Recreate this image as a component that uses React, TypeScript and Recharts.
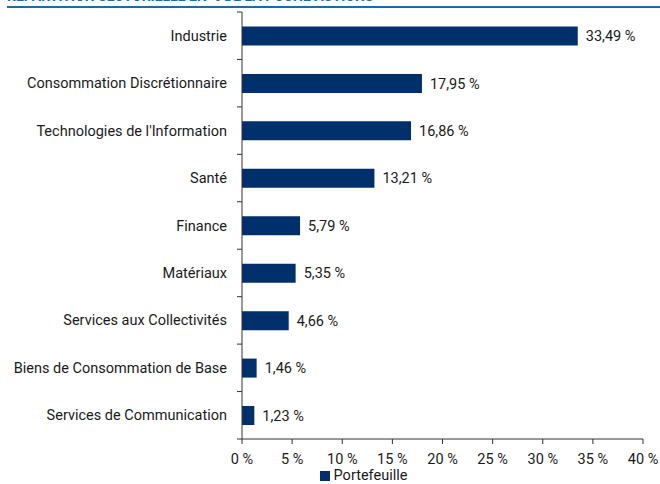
import React from "react";
import { BarChart, Bar, XAxis, YAxis, Legend, LabelList } from "recharts";

const categories = [
  "Industrie",
  "Consommation Discrétionnaire",
  "Technologies de l'Information",
  "Santé",
  "Finance",
  "Matériaux",
  "Services aux Collectivités",
  "Biens de Consommation de Base",
  "Services de Communication",
];
const portefeuille = [33.49, 17.95, 16.86, 13.21, 5.79, 5.35, 4.66, 1.46, 1.23];
const xTicks = [0, 5, 10, 15, 20, 25, 30, 35, 40];
const seriesName = "Portefeuille";
const title = "RÉPARTITION SECTORIELLE EN % DE LA POCHE ACTIONS";

const data = categories.map((c, i) => ({ name: c, value: portefeuille[i] }));

const FONT = "Roboto, sans-serif";
const FS = 14.5;
const BAR = "#00306b";
const TEXT = "#1a1a1a";

const fmtPct = (v: number) => v.toFixed(2).replace(".", ",") + " %";

const YTick = (props: any) => {
  const { x, y, payload, index, height } = props;
  const band = height / categories.length;
  const lx = x + 10;
  return (
    <g>
      <text
        x={x}
        y={y}
        dy="0.35em"
        textAnchor="end"
        fontSize={FS}
        fontFamily={FONT}
        fill={TEXT}
      >
        {payload.value}
      </text>
      <line x1={lx} x2={lx + 5} y1={y - band / 2} y2={y - band / 2} stroke="#333" strokeWidth={1} />
      {index === categories.length - 1 && (
        <line x1={lx} x2={lx + 5} y1={y + band / 2} y2={y + band / 2} stroke="#333" strokeWidth={1} />
      )}
    </g>
  );
};

const LegendContent = () => (
  <div
    style={{
      height: 17,
      display: "flex",
      justifyContent: "center",
      alignItems: "center",
      fontFamily: FONT,
      fontSize: FS,
      lineHeight: "17px",
      color: TEXT,
      paddingLeft: 84,
    }}
  >
    <span style={{ width: 10, height: 10, background: BAR, display: "inline-block", marginRight: 4 }} />
    <span>{seriesName}</span>
  </div>
);

export default function App() {
  return (
    <div style={{ position: "absolute", left: 0, top: 0, width: 660, height: 484, background: "#fff", overflow: "hidden" }}>
      <div
        style={{
          position: "absolute",
          left: 7,
          top: -11,
          fontFamily: FONT,
          fontWeight: 700,
          fontSize: 14,
          lineHeight: "14px",
          color: "#1f6aa5",
          whiteSpace: "nowrap",
        }}
      >
        {title}
      </div>
      <div style={{ position: "absolute", left: 7, top: 6, width: 653, height: 1.5, background: "#1f6aa5" }} />
      <BarChart
        width={660}
        height={484}
        data={data}
        layout="vertical"
        margin={{ top: 12, right: 17, left: 0, bottom: 0 }}
        barCategoryGap="30.5%"
      >
        <XAxis
          type="number"
          domain={[0, 40]}
          ticks={xTicks}
          tickFormatter={(v: number) => `${v} %`}
          height={28}
          tickSize={5}
          tickMargin={10}
          stroke="#333"
          tick={{ fontSize: FS, fontFamily: FONT, fill: TEXT }}
          interval={0}
        />
        <YAxis
          type="category"
          dataKey="name"
          width={242}
          tickLine={false}
          tickSize={5}
          tickMargin={10}
          stroke="#333"
          tick={<YTick />}
          interval={0}
        />
        <Legend verticalAlign="bottom" content={<LegendContent />} />
        <Bar dataKey="value" name={seriesName} fill={BAR} isAnimationActive={false}>
          <LabelList
            dataKey="value"
            position="right"
            offset={8}
            formatter={(v: any) => fmtPct(Number(v))}
            style={{ fontSize: FS, fontFamily: FONT, fill: TEXT }}
          />
        </Bar>
      </BarChart>
    </div>
  );
}
